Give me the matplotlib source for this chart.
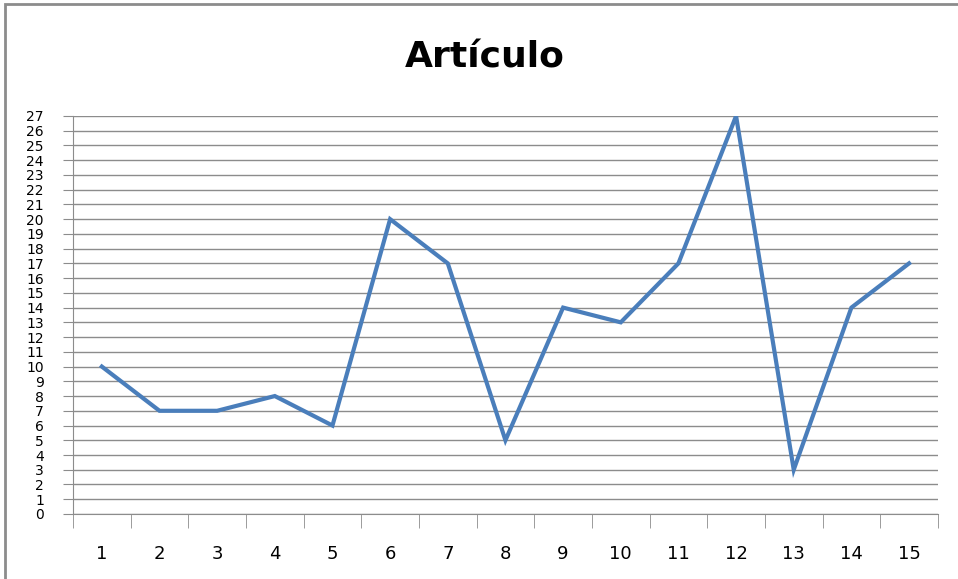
import matplotlib.pyplot as plt
from matplotlib.patches import Rectangle

# data
categories = [1, 2, 3, 4, 5, 6, 7, 8, 9, 10, 11, 12, 13, 14, 15]
values = [10, 7, 7, 8, 6, 20, 17, 5, 14, 13, 17, 27, 3, 14, 17]
y_ticks = list(range(0, 28))

fig = plt.figure(figsize=(9.58, 5.79), dpi=100)
ax = fig.add_axes([0.0762, 0.1123, 0.979 - 0.0762, 0.7997 - 0.1123])

# outer chart border (excel style)
fig.patches.append(Rectangle((5 / 958, -0.1), 1.2, (579 - 4.5) / 579 + 0.1,
                             transform=fig.transFigure, fill=False,
                             edgecolor='#8c8c8c', linewidth=2))

x = list(range(len(categories)))
ax.plot(x, values, color='#4a7ebb', linewidth=3, solid_joinstyle='miter')

ax.set_xlim(-0.5, len(categories) - 0.5)
ax.set_ylim(0, 27)

ax.set_yticks(y_ticks)
ax.set_yticklabels([str(v) for v in y_ticks], fontsize=10)
ax.yaxis.grid(True, color='#8c8c8c', linewidth=1)
ax.set_axisbelow(True)

ax.set_xticks(x)
ax.set_xticklabels([str(c) for c in categories], fontsize=13)
ax.set_xticks([i - 0.5 for i in range(len(categories) + 1)], minor=True)
ax.tick_params(axis='x', which='major', length=0, pad=22)
ax.tick_params(axis='x', which='minor', length=10, color='#8c8c8c', direction='out')
ax.tick_params(axis='y', length=7, color='#8c8c8c', direction='out', pad=14)

for s in ['top', 'right']:
    ax.spines[s].set_visible(False)
ax.spines['left'].set_color('#8c8c8c')
ax.spines['bottom'].set_color('#8c8c8c')

fig.text(0.506, 0.901, 'Artículo', ha='center', va='center',
         fontsize=26, fontweight='bold')

fig.savefig('out.png', dpi=100)
